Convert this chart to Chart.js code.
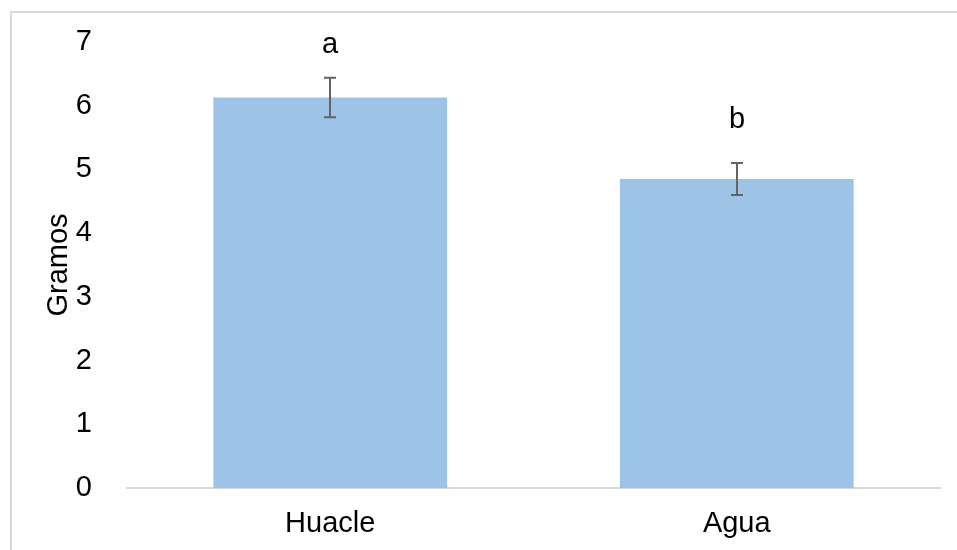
<!DOCTYPE html>
<html>
<head>
<meta charset="utf-8">
<script src="https://cdn.jsdelivr.net/npm/chart.js"></script>
<style>
  html, body { margin: 0; padding: 0; background: #fff; }
  #wrap { position: relative; width: 957px; height: 550px; }
</style>
</head>
<body>
<div id="wrap"><canvas id="myChart"></canvas></div>
<script>
  // data
  const categories = ['Huacle', 'Agua'];
  const means = [6.13, 4.85];
  const errors = [0.31, 0.25];
  const letters = ['a', 'b'];
  const letterAt = [6.95, 5.78];   // y value where each letter sits
  const yTicks = [0, 1, 2, 3, 4, 5, 6, 7];

  const FONT = 'Liberation Sans, Arial, sans-serif';
  const FS = 29;

  // light frame round the chart
  const frame = {
    id: 'frame',
    beforeDraw(chart) {
      const c = chart.ctx;
      c.save();
      c.strokeStyle = '#d9d9d9';
      c.lineWidth = 2;
      c.beginPath();
      c.moveTo(11, chart.height);
      c.lineTo(11, 12);
      c.lineTo(chart.width, 12);
      c.stroke();
      c.restore();
    }
  };

  // error bars + significance letters
  const extras = {
    id: 'extras',
    afterDatasetsDraw(chart) {
      const c = chart.ctx;
      const y = chart.scales.y;
      const meta = chart.getDatasetMeta(0);
      c.save();
      meta.data.forEach((bar, i) => {
        const x = Math.round(bar.x);
        const top = y.getPixelForValue(means[i] + errors[i]);
        const bot = y.getPixelForValue(means[i] - errors[i]);
        c.strokeStyle = '#636363';
        c.lineWidth = 2;
        c.beginPath();
        c.moveTo(x, top); c.lineTo(x, bot);
        c.moveTo(x - 6, top); c.lineTo(x + 6, top);
        c.moveTo(x - 6, bot); c.lineTo(x + 6, bot);
        c.stroke();

        c.fillStyle = '#000';
        c.font = FS + 'px ' + FONT;
        c.textAlign = 'center';
        c.textBaseline = 'middle';
        c.fillText(letters[i], x, y.getPixelForValue(letterAt[i]));
      });
      c.restore();
    }
  };

  new Chart(document.getElementById('myChart'), {
    type: 'bar',
    data: {
      labels: categories,
      datasets: [{
        data: means,
        backgroundColor: '#9dc3e6',
        borderWidth: 0,
        barPercentage: 0.575,
        categoryPercentage: 1
      }]
    },
    options: {
      responsive: true,
      maintainAspectRatio: false,
      animation: false,
      layout: { padding: { left: 42, right: 17, top: 42, bottom: 0 } },
      plugins: { legend: { display: false }, tooltip: { enabled: false } },
      scales: {
        x: {
          grid: { display: false },
          border: { display: true, color: '#d9d9d9', width: 2 },
          ticks: { color: '#000', font: { family: FONT, size: FS }, padding: 11 },
          afterFit(s) { s.height = 62; s.paddingLeft = 0; s.paddingRight = 0; }
        },
        y: {
          min: 0,
          max: 7,
          afterBuildTicks(s) { s.ticks = yTicks.map(v => ({ value: v })); },
          grid: { display: false },
          border: { display: false },
          ticks: { color: '#000', font: { family: FONT, size: FS }, padding: 27 },
          title: {
            display: true,
            text: 'Gramos',
            color: '#000',
            font: { family: FONT, size: FS },
            padding: { top: 0, bottom: 0 }
          },
          afterFit(s) { s.width = 85; s.paddingTop = 0; s.paddingBottom = 0; }
        }
      }
    },
    plugins: [frame, extras]
  });
</script>
</body>
</html>
